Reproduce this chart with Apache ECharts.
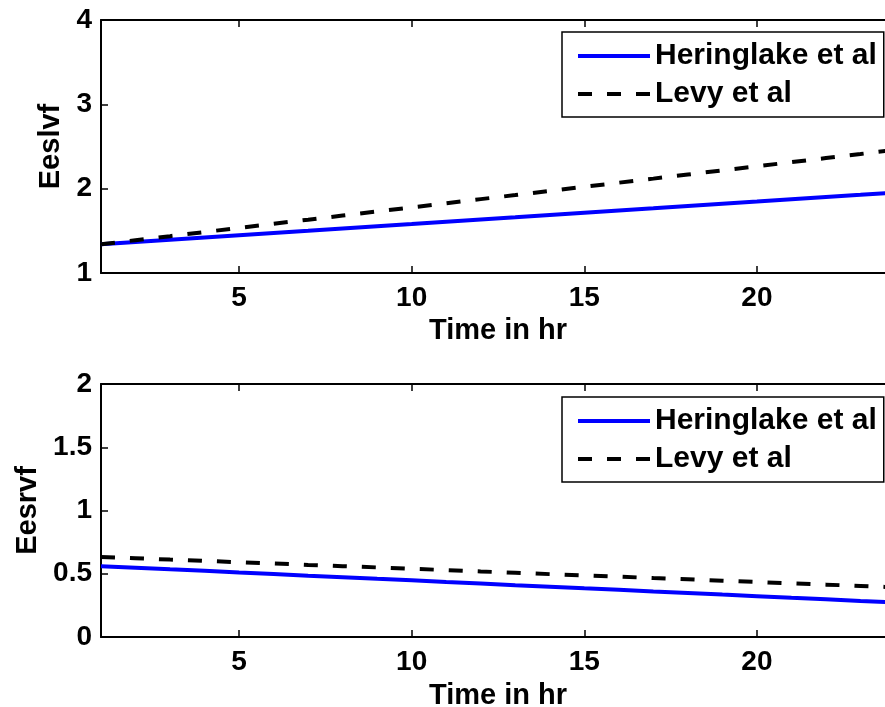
<!DOCTYPE html>
<html>
<head>
<meta charset="utf-8">
<script src="https://cdn.jsdelivr.net/npm/echarts@6/dist/echarts.min.js"></script>
<style>
html,body{margin:0;padding:0;background:#fff;}
#c{width:885px;height:707px;}
</style>
</head>
<body>
<div id="c"></div>
<script>
var hours = [1,2,3,4,5,6,7,8,9,10,11,12,13,14,15,16,17,18,19,20,21,22,23,24];
var xTicks = [5,10,15,20];
var seriesNames = ['Heringlake et al','Levy et al'];
var eeslvfHeringlake = [1.340,1.367,1.393,1.420,1.447,1.474,1.500,1.527,1.554,1.580,1.607,1.634,1.660,1.687,1.714,1.741,1.767,1.794,1.821,1.847,1.874,1.901,1.927,1.954];
var eeslvfLevy = [1.340,1.389,1.437,1.486,1.535,1.584,1.632,1.681,1.730,1.778,1.827,1.876,1.924,1.973,2.022,2.071,2.119,2.168,2.217,2.265,2.314,2.363,2.411,2.460];
var eesrvfHeringlake = [0.560,0.548,0.535,0.523,0.510,0.498,0.485,0.473,0.460,0.448,0.435,0.423,0.410,0.398,0.385,0.373,0.360,0.348,0.335,0.323,0.310,0.298,0.285,0.273];
var eesrvfLevy = [0.633,0.623,0.612,0.602,0.591,0.581,0.570,0.560,0.550,0.539,0.529,0.518,0.508,0.497,0.487,0.477,0.466,0.456,0.445,0.435,0.424,0.414,0.404,0.393];

function pairs(xs, ys){ return xs.map(function(x,i){ return [x, ys[i]]; }); }

var FONT = "'Liberation Sans', Arial, sans-serif";
var lbl = {color:'#000', fontFamily:FONT, fontWeight:'bold', fontSize:28};
var axisLine = {show:true, lineStyle:{color:'#000', width:2}};
var tick = {show:true, inside:true, length:7, lineStyle:{color:'#000', width:1.5}};

function xBottom(gi, gap){
  return {type:'value', gridIndex:gi, position:'bottom', min:1, max:24,
    name:'Time in hr', nameLocation:'middle', nameGap:gap,
    nameTextStyle:{color:'#000', fontFamily:FONT, fontWeight:'bold', fontSize:29},
    axisLine:axisLine,
    axisTick:Object.assign({}, tick, {customValues:xTicks}),
    axisLabel:Object.assign({}, lbl, {margin:11, customValues:xTicks}),
    splitLine:{show:false}};
}
function xTop(gi){
  return {type:'value', gridIndex:gi, position:'top', min:1, max:24,
    axisLine:axisLine,
    axisTick:Object.assign({}, tick, {customValues:xTicks}),
    axisLabel:{show:false}, splitLine:{show:false}};
}
function yLeft(gi, mn, mx, iv, nm, gap){
  return {type:'value', gridIndex:gi, min:mn, max:mx, interval:iv,
    name:nm, nameLocation:'middle', nameGap:gap,
    nameTextStyle:{color:'#000', fontFamily:FONT, fontWeight:'bold', fontSize:29},
    axisLine:axisLine, axisTick:tick,
    axisLabel:Object.assign({}, lbl, {margin:9}),
    splitLine:{show:false}};
}
function legend(top){
  return {left:562, top:top, orient:'vertical', data:seriesNames,
    itemWidth:72, itemHeight:14, itemGap:8,
    padding:[9,7,8,14], borderColor:'#000', borderWidth:1.5, backgroundColor:'#fff',
    itemStyle:{opacity:0},
    lineStyle:{width:4},
    textStyle:{color:'#000', fontFamily:FONT, fontWeight:'bold', fontSize:30},
    selectedMode:false};
}
var blue = {color:'#0000FF', width:4, type:'solid'};
var dash = {color:'#000000', width:4, type:[14,15]};

var option = {
  animation:false,
  backgroundColor:'#fff',
  grid:[
    {left:101, top:20, height:253, width:794, containLabel:false, outerBoundsMode:'none'},
    {left:101, top:384, height:253, width:794, containLabel:false, outerBoundsMode:'none'}
  ],
  xAxis:[xBottom(0,43), xTop(0), xBottom(1,44), xTop(1)],
  yAxis:[yLeft(0,1,4,1,'Eeslvf',35), yLeft(1,0,2,0.5,'Eesrvf',58)],
  legend:[legend(32), legend(397)],
  series:[
    {name:seriesNames[0], type:'line', xAxisIndex:0, yAxisIndex:0, data:pairs(hours,eeslvfHeringlake), symbol:'none', lineStyle:blue, itemStyle:{color:'#0000FF'}},
    {name:seriesNames[1], type:'line', xAxisIndex:0, yAxisIndex:0, data:pairs(hours,eeslvfLevy), symbol:'none', lineStyle:dash, itemStyle:{color:'#000'}},
    {name:seriesNames[0], type:'line', xAxisIndex:2, yAxisIndex:1, data:pairs(hours,eesrvfHeringlake), symbol:'none', lineStyle:blue, itemStyle:{color:'#0000FF'}},
    {name:seriesNames[1], type:'line', xAxisIndex:2, yAxisIndex:1, data:pairs(hours,eesrvfLevy), symbol:'none', lineStyle:dash, itemStyle:{color:'#000'}}
  ]
};
var chart = echarts.init(document.getElementById('c'), null, {renderer:'canvas'});
chart.setOption(option);
</script>
</body>
</html>
